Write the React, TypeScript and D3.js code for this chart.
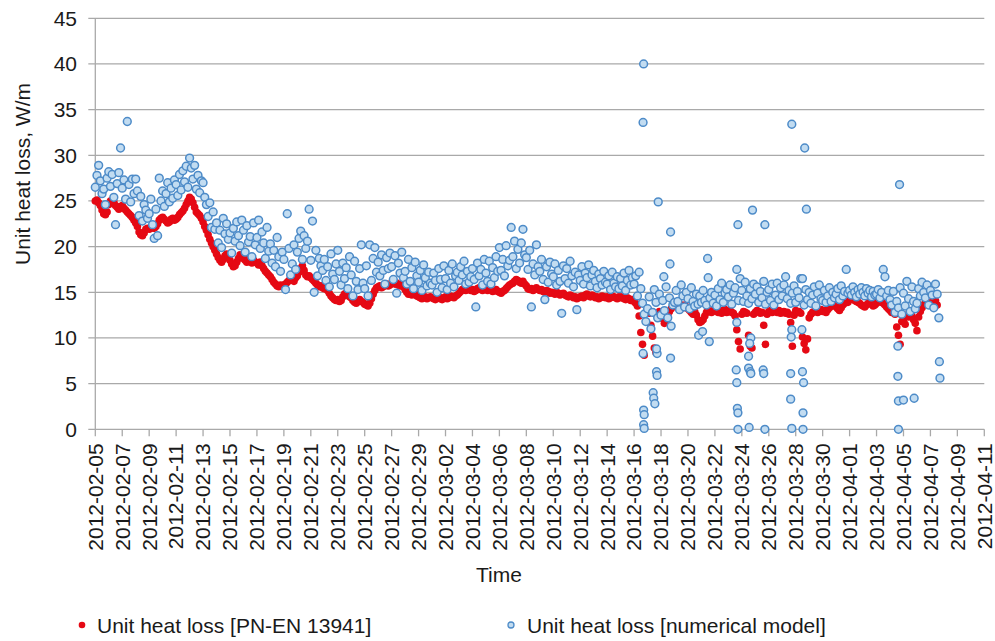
import React from "react";
import * as d3 from "d3";

// ---------- data ----------
const SERIES_START = "2012-02-05T00:00:00Z";
const STEP_HOURS = 3;
const X_DOMAIN = ["2012-02-05T00:00:00Z", "2012-04-11T00:00:00Z"];
const Y_TICKS = [0, 5, 10, 15, 20, 25, 30, 35, 40, 45];
const Y_LABEL = "Unit heat loss, W/m";
const X_LABEL = "Time";
const LEGEND_RED = "Unit heat loss [PN-EN 13941]";
const LEGEND_BLUE = "Unit heat loss [numerical model]";

// Unit heat loss [PN-EN 13941], every 3 h from 2012-02-05 00:00
const redLoss = [
  25.0, 25.1, 24.8, 24.5, 24.0, 23.6, 23.5, 23.8, // 02-05
  24.6, 25.0, 25.1, 24.9, 24.5, 24.3, 24.1, 24.4,
  24.5, 24.2, 24.0, 23.8, 23.6, 23.4, 23.2, 22.9,
  22.6, 22.2, 21.6, 21.3, 21.2, 21.5, 21.9, 22.0,
  21.9, 22.0, 22.1, 22.0, 22.2, 22.5, 22.9, 23.1,
  23.2, 23.0, 22.8, 22.6, 22.7, 23.0, 23.1, 22.9, // 02-10
  23.0, 23.2, 23.5, 23.7, 23.9, 24.2, 24.6, 25.0,
  25.4, 25.2, 24.8, 24.3, 23.8, 23.6, 23.4, 23.1,
  22.7, 22.2, 21.8, 21.3, 20.8, 20.4, 20.0, 19.6,
  19.2, 18.8, 18.5, 18.3, 18.6, 19.0, 19.2, 18.9,
  18.5, 18.1, 17.8, 17.9, 18.3, 18.7, 19.1, 18.9, // 02-15
  18.7, 18.5, 18.3, 18.6, 18.4, 18.2, 18.5, 18.3,
  18.2, 18.0, 18.3, 17.9, 17.6, 17.3, 17.1, 16.9,
  16.7, 16.4, 16.1, 15.9, 15.7, 15.6, 15.8, 15.7,
  15.8, 15.9, 16.1, 16.3, 16.5, 16.4, 16.2, 16.6,
  16.8, 17.2, 17.6, 17.9, 17.4, 16.9, 16.7, 16.8, // 02-20
  16.6, 16.4, 16.2, 16.0, 15.8, 15.6, 15.7, 15.5,
  15.4, 15.5, 15.2, 14.9, 14.6, 14.4, 14.2, 14.1,
  14.2, 14.0, 14.1, 14.5, 14.8, 14.9, 14.7, 14.5,
  14.4, 14.1, 13.9, 13.8, 14.0, 14.2, 14.0, 13.9,
  13.7, 13.6, 13.5, 13.8, 14.3, 14.8, 15.2, 15.5, // 02-25
  15.6, 15.7, 15.5, 15.6, 15.8, 15.9, 15.7, 15.8,
  16.0, 16.1, 15.9, 16.0, 15.8, 15.7, 15.9, 15.6,
  15.3, 15.0, 14.8, 14.9, 14.7, 14.9, 14.8, 14.6,
  14.5, 14.4, 14.3, 14.4, 14.5, 14.3, 14.4, 14.5,
  14.4, 14.3, 14.2, 14.4, 14.5, 14.3, 14.2, 14.4, // 03-01
  14.5, 14.3, 14.4, 14.6, 14.5, 14.4, 14.6, 14.7,
  14.9, 15.1, 15.3, 15.4, 15.2, 15.3, 15.4, 15.2,
  15.3, 15.1, 15.2, 15.4, 15.5, 15.3, 15.2, 15.4,
  15.3, 15.2, 15.4, 15.3, 15.1, 15.2, 15.3, 15.1,
  15.0, 14.9, 15.1, 15.2, 15.4, 15.6, 15.8, 15.9, // 03-06
  16.0, 16.2, 16.4, 16.3, 16.1, 16.0, 16.2, 15.9,
  15.7, 15.4, 15.3, 15.4, 15.2, 15.3, 15.5, 15.3,
  15.2, 15.3, 15.1, 15.0, 15.2, 15.1, 14.9, 15.0,
  14.9, 14.8, 15.0, 14.9, 14.7, 14.8, 14.9, 14.7,
  14.6, 14.5, 14.7, 14.6, 14.4, 14.5, 14.3, 14.4, // 03-11
  14.5, 14.6, 14.4, 14.7, 14.8, 14.6, 14.5, 14.7,
  14.6, 14.4, 14.5, 14.3, 14.4, 14.6, 14.5, 14.4,
  14.5, 14.3, 14.4, 14.6, 14.5, 14.4, 14.3, 14.5,
  14.4, 14.5, 14.3, 14.2, 14.4, 14.3, 14.1, 14.2,
  14.0, 13.8, 13.5, 12.4, 10.6, 9.3, 8.1, 12.8, // 03-16
  13.1, 12.7, 11.4, 10.2, 8.9, 8.4, 12.4, 12.9,
  12.6, 12.1, 11.6, 12.0, 12.5, 12.9, 13.2, 13.5,
  13.6, 13.8, 13.9, 13.7, 13.5, 13.3, 13.6, 13.4,
  13.2, 13.0, 12.8, 12.6, 12.9, 12.5, 12.0, 11.7,
  11.8, 12.0, 12.4, 12.8, 13.0, 12.9, 12.8, 13.0, // 03-21
  13.1, 12.9, 12.8, 13.0, 12.7, 12.9, 13.1, 12.8,
  12.9, 13.0, 12.8, 12.7, 12.4, 10.9, 9.6, 8.8,
  12.6, 12.9, 12.8, 12.7, 10.3, 9.1, 8.9, 12.6,
  12.8, 13.0, 12.9, 12.7, 12.8, 11.4, 9.3, 12.6,
  12.9, 13.0, 12.8, 13.1, 12.9, 12.8, 13.0, 12.7, // 03-26
  12.8, 12.9, 12.7, 12.8, 12.6, 11.7, 9.1, 12.5,
  13.0, 12.8, 12.9, 12.7, 10.1, 9.4, 8.7, 9.9,
  12.2, 12.6, 12.8, 12.9, 13.0, 12.8, 12.9, 13.1,
  12.9, 13.0, 12.8, 13.1, 13.3, 13.5, 13.8, 13.6,
  13.4, 13.2, 13.0, 13.3, 13.6, 13.8, 14.0, 13.9, // 03-31
  14.2, 14.4, 14.3, 14.1, 14.0, 13.9, 13.8, 13.6,
  13.5, 13.4, 13.6, 13.8, 13.9, 13.7, 13.5, 13.6,
  13.8, 14.0, 14.1, 13.9, 13.8, 13.6, 13.4, 13.2,
  13.0, 12.8, 12.9, 12.6, 11.2, 10.3, 9.3, 11.8,
  12.0, 11.5, 12.5, 12.3, 12.6, 12.4, 12.0, 11.6, // 04-05
  10.8, 12.3, 12.9, 13.3, 13.6, 13.9, 14.1, 14.0,
  13.8, 14.2, 14.5, 14.1, 13.6,
];

// Unit heat loss [numerical model], every 3 h from 2012-02-05 00:00
const blueLoss = [
  26.5, 27.8, 28.9, 27.2, 25.8, 26.3, 24.6, 27.5, // 02-05
  28.2, 26.6, 27.9, 25.4, 22.4, 26.9, 28.1, 30.8,
  26.4, 27.3, 25.2, 33.7, 26.8, 24.9, 27.4, 25.8,
  27.4, 26.1, 23.4, 25.5, 22.8, 24.6, 24.0, 23.1,
  23.6, 25.2, 22.4, 20.9, 24.1, 21.2, 27.5, 25.0,
  26.1, 24.4, 25.8, 27.0, 24.9, 26.4, 25.3, 27.3, // 02-10
  26.8, 25.6, 27.9, 26.2, 28.3, 27.1, 28.8, 26.5,
  29.7, 28.6, 27.4, 28.9, 26.3, 27.8, 25.9, 27.2,
  27.0, 25.4, 24.6, 23.3, 24.8, 22.1, 23.8, 21.9,
  22.6, 20.4, 21.8, 19.9, 23.1, 21.4, 22.5, 20.8,
  21.5, 19.3, 22.0, 20.6, 22.7, 21.2, 20.1, 22.9, // 02-15
  21.8, 19.4, 22.3, 20.5, 21.1, 18.9, 22.6, 20.2,
  21.0, 22.9, 19.8, 21.6, 20.4, 18.7, 22.1, 19.5,
  20.3, 18.2, 19.6, 17.8, 21.0, 18.9, 17.3, 19.4,
  18.6, 15.3, 23.6, 19.8, 16.9, 18.1, 20.2, 17.5,
  19.4, 20.9, 21.7, 18.6, 21.2, 19.8, 20.6, 24.1, // 02-20
  18.5, 22.8, 15.0, 19.6, 16.8, 18.7, 17.9, 17.4,
  18.6, 16.3, 17.8, 15.6, 19.2, 17.0, 16.4, 18.1,
  19.6, 17.3, 15.8, 18.2, 16.5, 17.7, 15.4, 18.9,
  16.9, 14.6, 18.4, 16.2, 15.3, 17.6, 20.2, 16.0,
  15.4, 17.9, 14.6, 20.2, 16.3, 18.7, 19.9, 17.2, // 02-25
  18.3, 16.8, 19.1, 17.4, 15.9, 18.8, 17.6, 19.3,
  17.8, 16.4, 19.0, 14.9, 18.2, 17.1, 19.4, 16.6,
  17.3, 15.9, 18.6, 16.2, 17.7, 15.4, 18.3, 16.8,
  16.1, 17.4, 15.2, 18.0, 16.6, 15.7, 17.2, 16.0,
  15.8, 17.1, 16.3, 15.0, 17.6, 16.4, 15.5, 17.9, // 03-01
  16.5, 15.3, 17.4, 16.0, 18.1, 15.6, 16.8, 17.2,
  16.3, 17.8, 16.9, 18.4, 15.9, 17.3, 16.1, 16.7,
  17.6, 16.4, 13.4, 18.2, 16.8, 17.5, 15.8, 18.6,
  17.1, 16.2, 18.4, 15.9, 17.7, 16.6, 18.9, 17.3,
  19.9, 17.4, 18.6, 16.8, 20.1, 17.9, 18.5, 22.1, // 03-06
  18.9, 20.6, 17.6, 19.7, 18.2, 20.4, 21.9, 19.1,
  18.8, 17.5, 19.6, 13.4, 18.1, 16.9, 20.2, 17.8,
  17.3, 18.6, 16.4, 14.2, 17.8, 16.1, 18.3, 17.0,
  16.7, 18.1, 15.8, 17.4, 16.2, 12.7, 17.9, 16.5,
  17.6, 16.0, 18.4, 16.8, 15.6, 17.2, 13.1, 16.9, // 03-11
  16.3, 17.8, 15.9, 17.1, 16.6, 18.0, 15.7, 16.9,
  17.4, 16.2, 15.5, 17.0, 16.5, 15.8, 17.3, 16.1,
  15.9, 16.8, 15.3, 17.2, 16.0, 15.6, 16.7, 15.4,
  16.5, 15.7, 17.1, 15.2, 16.3, 17.4, 15.8, 16.6,
  15.9, 16.8, 14.6, 17.2, 15.4, 13.8, 12.6, 11.8, // 03-16
  13.2, 14.5, 11.0, 12.8, 15.3, 13.9, 12.2, 14.8,
  12.5, 14.1, 13.0, 15.6, 12.2, 14.4, 11.3, 13.6,
  13.9, 15.2, 14.0, 13.1, 15.8, 14.6, 13.4, 15.0,
  14.3, 13.2, 15.5, 14.0, 13.5, 14.8, 13.7, 14.6,
  13.9, 15.2, 14.1, 13.6, 16.6, 14.4, 15.0, 13.8, // 03-21
  14.7, 13.5, 15.4, 14.2, 16.0, 13.9, 14.9, 15.3,
  14.5, 15.8, 13.7, 14.9, 15.5, 11.7, 14.1, 16.5,
  15.2, 14.0, 16.1, 14.6, 13.8, 15.4, 14.3, 15.9,
  14.8, 15.6, 13.9, 15.1, 14.4, 16.2, 13.7, 15.0,
  15.3, 14.1, 15.9, 13.6, 14.7, 16.0, 14.2, 15.5, // 03-26
  14.6, 15.8, 16.7, 14.3, 15.2, 13.8, 14.9, 15.7,
  13.9, 15.1, 14.4, 16.5, 16.5, 13.6, 15.3, 14.2,
  15.0, 13.8, 14.7, 15.6, 13.5, 14.9, 15.8, 14.3,
  14.1, 15.2, 13.9, 14.6, 15.5, 14.0, 15.0, 14.4,
  14.8, 15.4, 14.2, 15.7, 14.6, 15.1, 17.5, 14.9, // 03-31
  15.2, 14.7, 15.6, 15.0, 14.5, 15.3, 14.8, 15.5,
  15.0, 14.6, 15.4, 14.9, 15.2, 14.5, 15.1, 14.7,
  14.8, 15.3, 14.4, 15.0, 17.5, 16.7, 14.6, 15.2,
  14.2, 13.6, 15.1, 12.8, 14.0, 13.3, 15.5, 12.6,
  14.9, 13.5, 16.2, 14.3, 12.9, 15.6, 14.0, 13.2, // 04-05
  13.8, 15.4, 14.6, 16.1, 15.0, 14.4, 15.8, 13.6,
  15.2, 14.7, 13.3, 15.9, 14.8, 12.2,
];

// Isolated numerical-model readings (time, value)
const blueExtraTimes = [
  "2012-03-16T17:00", "2012-03-16T16:00", "2012-03-16T16:00", "2012-03-16T17:00",
  "2012-03-16T18:00", "2012-03-16T17:00", "2012-03-16T18:00", "2012-03-17T19:00",
  "2012-03-17T10:00", "2012-03-17T11:00", "2012-03-17T13:00", "2012-03-17T16:00",
  "2012-03-17T17:00", "2012-03-17T17:00", "2012-03-17T16:00", "2012-03-18T17:00",
  "2012-03-18T17:00", "2012-03-18T16:00", "2012-03-18T05:00", "2012-03-20T19:00",
  "2012-03-21T02:00", "2012-03-21T14:00", "2012-03-21T11:00", "2012-03-23T17:00",
  "2012-03-23T15:00", "2012-03-23T14:00", "2012-03-23T15:00", "2012-03-23T16:00",
  "2012-03-23T17:00", "2012-03-23T17:00", "2012-03-24T19:00", "2012-03-24T12:00",
  "2012-03-24T12:00", "2012-03-24T15:00", "2012-03-24T16:00", "2012-03-24T13:00",
  "2012-03-24T16:00", "2012-03-24T14:00", "2012-03-25T17:00", "2012-03-25T14:00",
  "2012-03-25T15:00", "2012-03-25T17:00", "2012-03-27T17:00", "2012-03-27T15:00",
  "2012-03-27T15:00", "2012-03-27T17:00", "2012-03-27T17:00", "2012-03-27T16:00",
  "2012-03-28T16:00", "2012-03-28T19:00", "2012-03-28T12:00", "2012-03-28T14:00",
  "2012-03-28T13:00", "2012-03-28T13:00", "2012-03-28T11:00", "2012-04-04T17:00",
  "2012-04-04T14:00", "2012-04-04T14:00", "2012-04-04T15:00", "2012-04-04T15:00",
  "2012-04-05T00:00", "2012-04-05T19:00", "2012-04-07T16:00", "2012-04-07T17:00",
];
const blueExtraValues = [
  40.0, 33.6, 8.3, 2.1,
  1.6, 0.5, 0.1, 24.9,
  4.0, 3.4, 2.8, 6.3,
  5.9, 8.3, 8.8, 21.6,
  7.8, 18.1, 16.7, 10.3,
  10.7, 9.6, 18.7, 22.4,
  17.5, 6.5, 5.1, 2.3,
  1.8, 0.0, 24.0, 8.0,
  6.7, 6.3, 6.1, 0.2,
  10.0, 9.4, 22.4, 6.5,
  6.1, 0.0, 33.4, 6.1,
  3.3, 0.1, 10.9, 10.1,
  30.8, 24.1, 6.3, 5.1,
  1.8, 0.0, 10.9, 26.8,
  9.1, 5.8, 3.1, 0.0,
  3.2, 3.4, 7.4, 5.6,
];

// ---------- chart ----------
const FONT = "'Liberation Sans', Arial, Helvetica, sans-serif";

export default function App() {
  const W = 995;
  const H = 641;
  const left = 95.3;
  const right = 984.3;
  const top = 18.3;
  const bottom = 429.3;

  const start = d3.isoParse(SERIES_START) as Date;
  const x = d3
    .scaleUtc()
    .domain(X_DOMAIN.map((s) => d3.isoParse(s) as Date))
    .range([left, right]);
  const y = d3.scaleLinear().domain([0, 45]).range([bottom, top]);

  const xTicks = d3.utcDay.range(x.domain()[0], d3.utcDay.offset(x.domain()[1], 1), 2);
  const fmt = d3.utcFormat("%Y-%m-%d");
  const parseExtra = d3.utcParse("%Y-%m-%dT%H:%M");

  const redPts = redLoss.map((v, i) => ({ t: d3.utcHour.offset(start, i * STEP_HOURS), v }));
  const bluePts = blueLoss
    .map((v, i) => ({ t: d3.utcHour.offset(start, i * STEP_HOURS), v }))
    .concat(blueExtraTimes.map((s, i) => ({ t: parseExtra(s) as Date, v: blueExtraValues[i] })));

  const gridColor = "#a9a9a9";
  const textColor = "#1a1a1a";
  const blueFill = "#c2dcf1";
  const blueStroke = "#4d8bc8";
  const red = "#e50914";

  return (
    <svg
      width={W}
      height={H}
      style={{ position: "absolute", left: 0, top: 0, background: "#fff" }}
      fontFamily={FONT}
    >
      <rect width={W} height={H} fill="#fff" />
      {/* grid + y ticks */}
      {Y_TICKS.map((t) => (
        <g key={"y" + t}>
          <line x1={left - 7} x2={right} y1={y(t)} y2={y(t)} stroke={gridColor} strokeWidth={1.3} />
          <text x={77} y={y(t)} dy="0.35em" textAnchor="end" fontSize={21} fill={textColor}>
            {t}
          </text>
        </g>
      ))}
      {/* y axis line */}
      <line x1={left} x2={left} y1={top} y2={bottom} stroke={gridColor} strokeWidth={1.3} />
      {/* x ticks */}
      {xTicks.map((d) => (
        <g key={"x" + +d}>
          <line x1={x(d)} x2={x(d)} y1={bottom} y2={bottom + 7} stroke={gridColor} strokeWidth={1.3} />
          <text
            transform={`translate(${x(d)},${bottom + 14}) rotate(-90)`}
            dy="0.35em"
            textAnchor="end"
            fontSize={21}
            fill={textColor}
          >
            {fmt(d)}
          </text>
        </g>
      ))}
      {/* series */}
      <g>
        {redPts.map((p, i) => (
          <circle key={"r" + i} cx={x(p.t)} cy={y(p.v)} r={3.8} fill={red} />
        ))}
      </g>
      <g>
        {bluePts.map((p, i) => (
          <circle
            key={"b" + i}
            cx={x(p.t)}
            cy={y(p.v)}
            r={3.9}
            fill={blueFill}
            stroke={blueStroke}
            strokeWidth={1.5}
          />
        ))}
      </g>
      {/* axis titles */}
      <text
        transform="translate(23,174) rotate(-90)"
        dy="0.35em"
        textAnchor="middle"
        fontSize={21}
        fill={textColor}
      >
        {Y_LABEL}
      </text>
      <text x={499} y={582} textAnchor="middle" fontSize={21} fill={textColor}>
        {X_LABEL}
      </text>
      {/* legend */}
      <circle cx={82} cy={625} r={3.3} fill={red} />
      <text x={97} y={633} fontSize={21} fill={textColor}>
        {LEGEND_RED}
      </text>
      <circle cx={511} cy={625} r={3} fill={blueFill} stroke={blueStroke} strokeWidth={1.3} />
      <text x={527} y={633} fontSize={21} fill={textColor}>
        {LEGEND_BLUE}
      </text>
    </svg>
  );
}
